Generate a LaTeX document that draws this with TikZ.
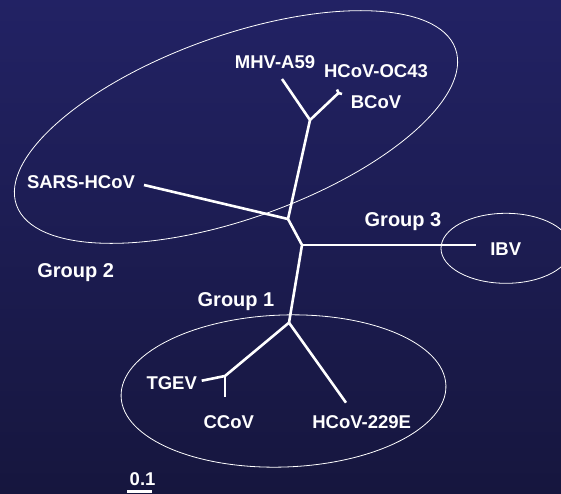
\documentclass[tikz,border=0pt]{standalone}
\usepackage{fontspec}
\setmainfont{Liberation Sans}
\usetikzlibrary{calc}
\definecolor{bgtop}{RGB}{34,34,100}
\definecolor{bgmid}{RGB}{51,51,152}
\definecolor{bgbot}{RGB}{22,22,62}
\tikzset{
taxon/.style={
  anchor=base, inner sep=0pt, text=white,
  font=\fontsize{18.5}{20}\selectfont\bfseries
  },
grouplabel/.style={
  anchor=base, inner sep=0pt, text=white,
  font=\fontsize{20}{22}\selectfont\bfseries
  },
branch/.style={
  draw=white, line width=2.6pt, line join=miter
  },
clade/.style={
  draw=white, line width=0.8pt
  }
}

\begin{document}
\begin{tikzpicture}[x=1pt,y=-1pt]
\useasboundingbox (0,0) rectangle (561,493);
\shade[top color=bgtop, middle color=bgmid, bottom color=bgbot]
  (0,0) rectangle (561,493);

% inner nodes of the tree
\coordinate(n1) at (289,322.7);
\coordinate(n2) at (302,245);
\coordinate(n3) at (288,219);
\coordinate(n4) at (310,120);
\coordinate(n5) at (338.5,93);
\coordinate(n6) at (225,376);

% tips
\coordinate(mhv) at (282,79);
\coordinate(oc43) at (337,89.5);
\coordinate(bcov) at (342,94);
\coordinate(sars) at (144,185);
\coordinate(ibv) at (476,245);
\coordinate(tgev) at (201.7,380.7);
\coordinate(ccov) at (225,396.7);
\coordinate(hcov229) at (346,402.7);

\begin{scope}
\draw[branch](n1) -- (n2) -- (n3) -- (n4) -- (n5);
\draw[branch](mhv) -- (n4);
\draw[branch](n5) -- (oc43);
\draw[branch](n5) -- (bcov);
\draw[branch](sars) -- (n3);
\draw[branch](n2) -- (ibv);
\draw[branch](n1) -- (n6) -- (tgev);
\draw[branch](n6) -- (ccov);
\draw[branch](n1) -- (hcov229);
\end{scope}

% clades
\draw[clade, rotate around={19.6:(236,127)}] (236,127)
  ellipse [x radius=233pt, y radius=91.5pt];
\draw[clade] (506,248.3) ellipse [x radius=65pt, y radius=35pt];
\draw[clade, rotate around={2:(283.5,391)}] (283.5,391)
  ellipse [x radius=162.5pt, y radius=76pt];

% labels
\node[taxon] (mhv-l) at (275,68) {MHV-A59};
\node[taxon] (oc43-l) at (376,77) {HCoV-OC43};
\node[taxon] (bcov-l) at (376,108) {BCoV};
\node[taxon] (sars-l) at (81,188) {SARS-HCoV};
\node[taxon] (ibv-l) at (505.7,255) {IBV};
\node[taxon] (tgev-l) at (171.7,389.3) {TGEV};
\node[taxon] (ccov-l) at (228.8,428.3) {CCoV};
\node[taxon] (hcov229-l) at (361.7,428.3) {HCoV-229E};

\node[grouplabel] (grp1) at (236,306) {Group 1};
\node[grouplabel] (grp2) at (75.7,277.5) {Group 2};
\node[grouplabel] (grp3) at (403,226.7) {Group 3};

% scale bar
\node[taxon] (bar-l) at (142.6,485) {0.1};
\coordinate(bar-a) at (127,491.5);
\coordinate(bar-b) at (152,491.5);
\draw[white, line width=3pt] (bar-a) -- (bar-b);

\end{tikzpicture}
\end{document}
